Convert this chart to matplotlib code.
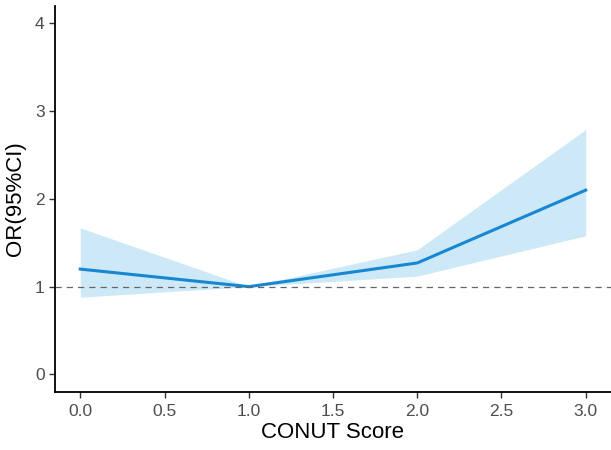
import matplotlib
matplotlib.use("Agg")
import matplotlib.pyplot as plt

# CONUT score vs odds ratio with 95% CI
conut = [0, 1, 2, 3]
odds_ratio = [1.20, 1.00, 1.27, 2.10]
ci_lower = [0.88, 1.00, 1.12, 1.58]
ci_upper = [1.67, 1.00, 1.42, 2.79]
x_ticks = [0.0, 0.5, 1.0, 1.5, 2.0, 2.5, 3.0]
y_ticks = [0, 1, 2, 3, 4]

plt.rcParams['font.family'] = ['Liberation Sans', 'DejaVu Sans']

fig = plt.figure(figsize=(6.11, 4.5), dpi=100)
ax = fig.add_axes([0.09, 0.129, 0.91, 0.858])

ax.fill_between(conut, ci_lower, ci_upper, color='#cde9f7', linewidth=0)
ax.plot(conut, odds_ratio, color='#1787d3', linewidth=2.2)
ax.axhline(1, color='#666666', linestyle=(0, (5, 4)), linewidth=0.9)

ax.set_xlim(-0.15, 3.15)
ax.set_ylim(-0.2, 4.2)
ax.set_xticks(x_ticks)
ax.set_xticklabels([f'{t:.1f}' for t in x_ticks])
ax.set_yticks(y_ticks)

for s in ['top', 'right']:
    ax.spines[s].set_visible(False)
for s in ['left', 'bottom']:
    ax.spines[s].set_linewidth(1.3)
    ax.spines[s].set_color('black')

ax.tick_params(axis='both', labelsize=12.5, labelcolor='#4d4d4d', color='#333333',
               length=4, width=1)
ax.tick_params(axis='x', pad=5)
ax.set_xlabel('CONUT Score', fontsize=16, labelpad=2)
ax.set_ylabel('OR(95%CI)', fontsize=16, labelpad=6)

fig.savefig('out.png', dpi=100)
